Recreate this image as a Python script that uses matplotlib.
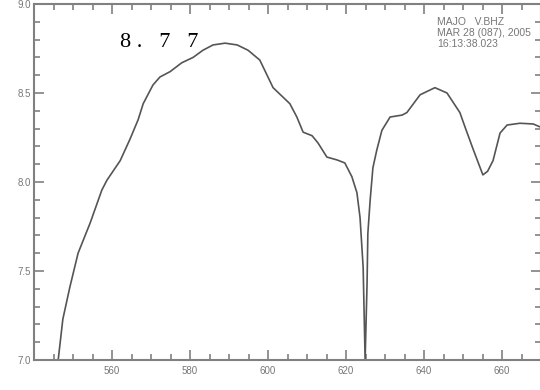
import matplotlib
matplotlib.use('Agg')
import matplotlib.pyplot as plt
from matplotlib.ticker import MultipleLocator, FixedLocator

# wavelength / value pairs
wave = [546.2, 547.4, 549.2, 551.3, 554.4, 557.4, 558.7, 562.1, 564.6, 566.7,
        568.0, 570.5, 572.3, 574.9, 577.9, 580.8, 583.3, 585.9, 589.0, 592.1,
        594.9, 597.9, 601.3, 605.6, 607.4, 609.0, 611.3, 612.8, 615.1, 617.7,
        619.7, 621.5, 622.8, 623.6, 624.4, 624.9, 625.4, 625.6, 626.2, 626.9,
        627.9, 629.2, 631.3, 634.4, 635.6, 639.0, 642.8, 645.9, 649.2, 650.5,
        652.5, 654.4, 655.1, 656.3, 657.7, 659.5, 661.3, 664.6, 668.0, 669.7]
value = [7.00, 7.23, 7.41, 7.60, 7.77, 7.955, 8.01, 8.12, 8.24, 8.35,
         8.44, 8.545, 8.59, 8.62, 8.67, 8.70, 8.74, 8.77, 8.78, 8.77,
         8.74, 8.685, 8.53, 8.44, 8.365, 8.28, 8.26, 8.22, 8.14, 8.124,
         8.107, 8.03, 7.94, 7.80, 7.52, 7.00, 7.43, 7.71, 7.90, 8.08,
         8.18, 8.29, 8.365, 8.376, 8.39, 8.49, 8.53, 8.50, 8.39, 8.31,
         8.19, 8.08, 8.04, 8.06, 8.12, 8.275, 8.32, 8.33, 8.326, 8.31]

x_ticks = [560, 580, 600, 620, 640, 660]
peak_label = '8 .   7   7'
info_lines = ['MAJO   V.BHZ', 'MAR 28 (087), 2005', '16:13:38.023']

W, H = 540, 390
fig = plt.figure(figsize=(W / 100, H / 100), dpi=100)
ax = fig.add_axes([34 / W, 30 / H, 507 / W, 356 / H])

ax.plot(wave, value, color='#555555', lw=1.2)
ax.set_xlim(540, 670)
ax.set_ylim(7.0, 9.0)

grey = '#808080'
for s in ax.spines.values():
    s.set_color(grey)
    s.set_linewidth(1.5)

ax.xaxis.set_major_locator(FixedLocator(x_ticks))
ax.xaxis.set_minor_locator(MultipleLocator(5))
ax.yaxis.set_major_locator(MultipleLocator(0.5))
ax.yaxis.set_minor_locator(MultipleLocator(0.1))
ax.yaxis.set_major_formatter(matplotlib.ticker.FormatStrFormatter('%.1f'))
ax.tick_params(which='both', direction='in', top=True, right=True,
               color=grey, labelcolor='#777777', labelsize=7, width=1.2)
ax.tick_params(which='major', length=7)
ax.tick_params(which='minor', length=4)
ax.tick_params(axis='x', pad=4)
ax.tick_params(axis='y', pad=2)
for lab in ax.get_xticklabels() + ax.get_yticklabels():
    lab.set_family(['Liberation Sans', 'DejaVu Sans'])

fig.text(120 / W, 1 - 47 / H, peak_label, fontsize=16,
         family=['Liberation Serif', 'DejaVu Serif'], color='black',
         va='baseline', ha='left')
fig.text(437 / W, 1 - 17 / H, '\n'.join(info_lines),
         fontsize=7.5, color='#777777', va='top', ha='left', linespacing=1.15,
         family=['Liberation Sans', 'DejaVu Sans'])

fig.savefig('out.png', dpi=100)
